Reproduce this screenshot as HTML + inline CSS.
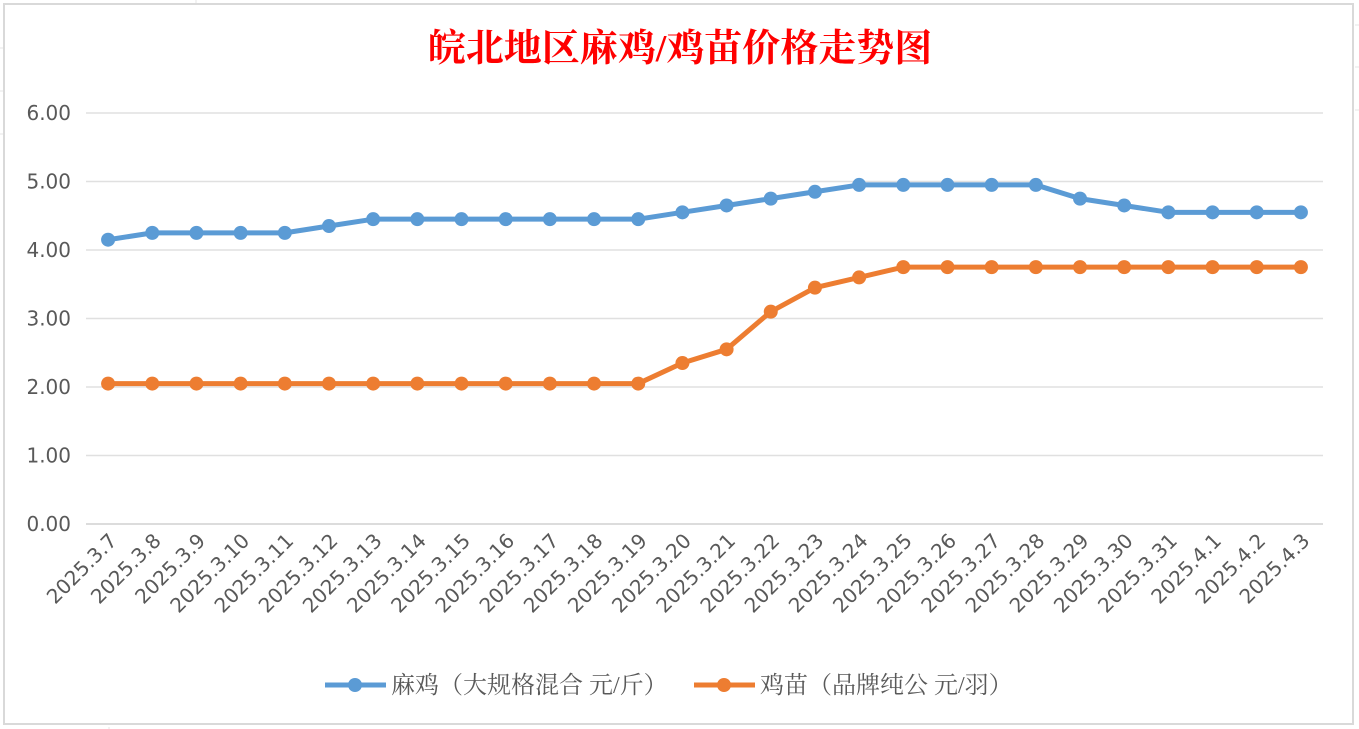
<!DOCTYPE html>
<html><head><meta charset="utf-8"><style>
body{margin:0;background:#fff;width:1359px;height:729px;overflow:hidden}
svg{display:block}
text{font-family:"DejaVu Sans","Noto Sans CJK SC",sans-serif}
text.serif{font-family:"Liberation Serif","Noto Serif CJK SC",serif}
</style></head><body>
<svg id="chart" width="1359" height="729">
<g stroke="#e6e6e6" stroke-width="1">
<line x1="196" y1="0" x2="196" y2="4"/><line x1="109" y1="727" x2="109" y2="729"/>
<line x1="0" y1="48" x2="3" y2="48"/><line x1="0" y1="91" x2="3" y2="91"/><line x1="0" y1="134" x2="3" y2="134"/>
<line x1="1355" y1="25" x2="1359" y2="25"/><line x1="1355" y1="67" x2="1359" y2="67"/><line x1="1355" y1="110" x2="1359" y2="110"/>
</g>
<rect x="4" y="4" width="1349" height="720" fill="#fff" stroke="#d9d9d9" stroke-width="2"/>
<text class="serif" x="680" y="61" text-anchor="middle" fill="#ff0000" font-size="38" font-weight="bold">皖北地区麻鸡/鸡苗价格走势图</text>
<g id="grid"></g><g id="yaxis"></g><g id="xaxis"></g><g id="series"></g>
<g>
<g>
<line x1="325" y1="685" x2="386" y2="685" stroke="#5b9bd5" stroke-width="5"/>
<circle cx="355" cy="685" r="7" fill="#5b9bd5"/>
<text class="serif" x="391" y="693" font-size="24" fill="#595959">麻鸡（大规格混合 元/斤）</text></g>
<g>
<line x1="694" y1="685" x2="755" y2="685" stroke="#ed7d31" stroke-width="5"/>
<circle cx="724" cy="685" r="7" fill="#ed7d31"/>
<text class="serif" x="760" y="693" font-size="24" fill="#595959">鸡苗（品牌纯公 元/羽）</text></g>
</g>
</svg>
<script>
const categories=["2025.3.7","2025.3.8","2025.3.9","2025.3.10","2025.3.11","2025.3.12","2025.3.13","2025.3.14","2025.3.15","2025.3.16","2025.3.17","2025.3.18","2025.3.19","2025.3.20","2025.3.21","2025.3.22","2025.3.23","2025.3.24","2025.3.25","2025.3.26","2025.3.27","2025.3.28","2025.3.29","2025.3.30","2025.3.31","2025.4.1","2025.4.2","2025.4.3"];
const majiValues=[4.15,4.25,4.25,4.25,4.25,4.35,4.45,4.45,4.45,4.45,4.45,4.45,4.45,4.55,4.65,4.75,4.85,4.95,4.95,4.95,4.95,4.95,4.75,4.65,4.55,4.55,4.55,4.55];
const jimiaoValues=[2.05,2.05,2.05,2.05,2.05,2.05,2.05,2.05,2.05,2.05,2.05,2.05,2.05,2.35,2.55,3.1,3.45,3.6,3.75,3.75,3.75,3.75,3.75,3.75,3.75,3.75,3.75,3.75];
const yTicks=[0,1,2,3,4,5,6];
const NS="http://www.w3.org/2000/svg";
const L=86,R=1323,T=113,B=524,YMAX=6;
const x=i=>L+(R-L)/categories.length*(i+0.5);
const y=v=>B-(B-T)*v/YMAX;
function mk(tag,attrs,parent){const e=document.createElementNS(NS,tag);for(const k in attrs)e.setAttribute(k,attrs[k]);parent.appendChild(e);return e;}
const g=document.getElementById('grid'),ya=document.getElementById('yaxis'),xa=document.getElementById('xaxis'),s=document.getElementById('series');
yTicks.forEach(t=>{
 const l=mk('line',{x1:L,x2:R,y1:y(t),y2:y(t),stroke:t===0?'#d0d0d0':'#e0e0e0','stroke-width':1.5},g);
 
 
 const tx=mk('text',{x:71,y:y(t)+7,'text-anchor':'end','font-size':20,fill:'#595959'},ya);
 tx.textContent=t.toFixed(2);
 
 
});
categories.forEach((c,i)=>{
 const tx=mk('text',{x:x(i)+10,y:542,'text-anchor':'end','font-size':20,fill:'#595959',transform:`rotate(-45 ${x(i)+10} 542)`},xa);
 tx.textContent=c;
 
 
});
function series(vals,color,name){
 const p=mk('polyline',{points:vals.map((v,i)=>x(i)+','+y(v)).join(' '),fill:'none',stroke:color,'stroke-width':5,'stroke-linejoin':'round'},s);
 
 
 vals.forEach((v,i)=>{
  const c=mk('circle',{cx:x(i),cy:y(v),r:7,fill:color},s);
  
  
 });
}
series(majiValues,'#5b9bd5','maji');
series(jimiaoValues,'#ed7d31','jimiao');
</script>
</body></html>
